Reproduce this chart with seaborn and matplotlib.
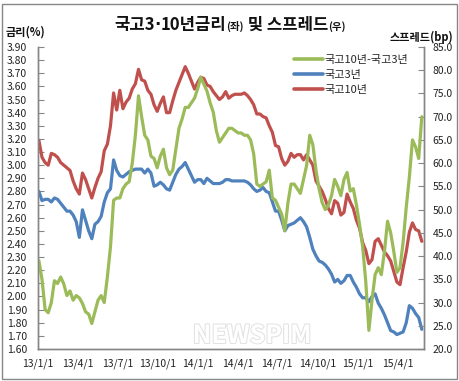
import numpy as np
import pandas as pd
import seaborn as sns
import matplotlib
matplotlib.use("Agg")
from matplotlib import pyplot as plt
from matplotlib.offsetbox import TextArea, HPacker, AnnotationBbox
from matplotlib.patches import Rectangle
from matplotlib.lines import Line2D
from matplotlib.ticker import FixedLocator, FuncFormatter
import matplotlib.patheffects as pe

# weekly readings, early Jan 2013 .. late May 2015
dates = pd.date_range("2013-01-03", "2015-05-27", periods=124)

# 국고10년 (%)
ktb10 = [
    3.19, 3.06, 3.02, 3.00, 3.09, 3.08, 3.06, 3.02, 3.00, 2.98,
    2.96, 2.88, 2.82, 2.78, 2.94, 2.89, 2.82, 2.75, 2.83, 2.90,
    2.95, 3.11, 3.16, 3.30, 3.55, 3.42, 3.57, 3.43, 3.48, 3.51,
    3.58, 3.62, 3.73, 3.65, 3.64, 3.57, 3.54, 3.46, 3.41, 3.47,
    3.52, 3.40, 3.40, 3.49, 3.57, 3.63, 3.69, 3.75, 3.70, 3.64,
    3.58, 3.63, 3.67, 3.66, 3.61, 3.60, 3.56, 3.53, 3.50, 3.52,
    3.56, 3.51, 3.53, 3.54, 3.54, 3.54, 3.55, 3.53, 3.50, 3.46,
    3.39, 3.39, 3.37, 3.36, 3.30, 3.25, 3.15, 3.14, 3.05, 3.00,
    3.03, 3.09, 3.06, 3.08, 3.08, 3.04, 3.08, 3.04, 3.00, 2.88,
    2.84, 2.80, 2.74, 2.67, 2.63, 2.73, 2.71, 2.62, 2.64, 2.78,
    2.72, 2.67, 2.58, 2.52, 2.41, 2.35, 2.25, 2.28, 2.42, 2.44,
    2.39, 2.34, 2.31, 2.27, 2.19, 2.11, 2.09, 2.22, 2.34, 2.49,
    2.56, 2.51, 2.50, 2.42,
]

# 국고3년 (%)
ktb3 = [
    2.80, 2.73, 2.74, 2.74, 2.72, 2.75, 2.74, 2.71, 2.68, 2.65,
    2.65, 2.62, 2.57, 2.45, 2.66, 2.58, 2.50, 2.44, 2.55, 2.57,
    2.61, 2.72, 2.79, 2.82, 3.04, 2.96, 2.92, 2.91, 2.93, 2.95,
    2.96, 2.97, 2.97, 2.97, 2.94, 2.97, 2.94, 2.84, 2.85, 2.87,
    2.85, 2.82, 2.81, 2.87, 2.93, 2.97, 2.99, 3.02, 2.97, 2.92,
    2.87, 2.89, 2.89, 2.86, 2.90, 2.88, 2.86, 2.86, 2.86, 2.87,
    2.89, 2.89, 2.88, 2.88, 2.88, 2.88, 2.88, 2.87, 2.85, 2.82,
    2.80, 2.81, 2.83, 2.80, 2.79, 2.72, 2.65, 2.65, 2.58, 2.50,
    2.54, 2.55, 2.56, 2.58, 2.60, 2.57, 2.53, 2.45, 2.36, 2.31,
    2.27, 2.26, 2.24, 2.21, 2.17, 2.11, 2.13, 2.10, 2.12, 2.16,
    2.16, 2.11, 2.07, 2.02, 1.99, 1.99, 1.96, 2.00, 2.02, 1.95,
    1.91, 1.86, 1.80, 1.74, 1.73, 1.71, 1.72, 1.73, 1.80, 1.93,
    1.91, 1.87, 1.84, 1.75,
]

# 국고10년-국고3년 (bp)
spread = [
    39.0, 35.0, 28.5, 27.8, 30.0, 34.7, 34.1, 35.5, 34.0, 31.5,
    32.5, 30.5, 31.5, 31.0, 29.8, 28.0, 27.5, 25.5, 28.0, 30.5,
    31.5, 30.0, 35.5, 42.0, 52.0, 52.5, 52.5, 54.5, 55.5, 56.0,
    60.0, 66.0, 74.5, 70.0, 66.0, 65.0, 61.5, 61.0, 59.0, 61.5,
    63.0, 59.0, 57.5, 58.5, 63.0, 67.5, 69.5, 72.0, 72.0, 73.0,
    74.0, 76.0, 78.5, 77.0, 75.5, 73.0, 71.0, 67.0, 64.5, 65.5,
    66.5, 67.5, 67.5, 67.0, 66.5, 66.5, 66.0, 66.0, 65.0, 62.0,
    55.5, 55.0, 55.5, 56.0, 58.5, 52.5, 52.0, 50.5, 49.0, 45.5,
    51.5, 55.5, 55.5, 54.5, 53.5, 56.5, 59.5, 66.0, 64.0, 58.5,
    54.5, 51.5, 50.0, 51.0, 53.0, 56.5, 55.0, 53.0, 56.5, 58.0,
    54.0, 54.5, 51.0, 46.8, 42.0, 34.5, 24.0, 30.5, 36.0, 37.5,
    36.0, 41.0, 47.5, 45.0, 41.0, 36.5, 37.5, 43.0, 50.5, 57.0,
    65.0, 63.5, 61.0, 70.0,
]

tick_dates = pd.to_datetime([
    "2013-01-01", "2013-04-01", "2013-07-01", "2013-10-01", "2014-01-01",
    "2014-04-01", "2014-07-01", "2014-10-01", "2015-01-01", "2015-04-01",
])
tick_labels = ["13/1/1", "13/4/1", "13/7/1", "13/10/1", "14/1/1",
               "14/4/1", "14/7/1", "14/10/1", "15/1/1", "15/4/1"]

GREEN, BLUE, RED = "#9BBB59", "#4F81BD", "#C0504D"
AXIS = "#868686"

sns.set_theme(style="white")
plt.rcParams["font.family"] = ["Noto Sans CJK KR", "DejaVu Sans"]

fig = plt.figure(figsize=(4.6, 3.81), dpi=100)
ax = fig.add_axes([38 / 460, 1 - 349 / 381, 386 / 460, 302 / 381])
ax2 = ax.twinx()

sns.lineplot(x=dates, y=ktb3, ax=ax, color=BLUE, linewidth=2.3, legend=False)
sns.lineplot(x=dates, y=ktb10, ax=ax, color=RED, linewidth=2.3, legend=False)
sns.lineplot(x=dates, y=spread, ax=ax2, color=GREEN, linewidth=2.3, legend=False)

ax.set_xlim(pd.Timestamp("2013-01-01"), pd.Timestamp("2015-06-01"))
ax.set_ylim(1.6, 3.9)
ax2.set_ylim(20, 85)
ax.set_xlabel("")
ax.set_ylabel("")
ax2.set_ylabel("")

ax.yaxis.set_major_locator(FixedLocator(np.arange(1.6, 3.905, 0.1)))
ax.yaxis.set_major_formatter(FuncFormatter(lambda v, p: f"{v:.2f}"))
ax2.yaxis.set_major_locator(FixedLocator(np.arange(20, 85.5, 5)))
ax2.yaxis.set_major_formatter(FuncFormatter(lambda v, p: f"{v:.1f}"))
ax.xaxis.set_major_locator(FixedLocator(matplotlib.dates.date2num(tick_dates)))
ax.set_xticklabels(tick_labels)

for a in (ax, ax2):
    for s in a.spines.values():
        s.set_color(AXIS)
        s.set_linewidth(1.0)
    a.spines["top"].set_visible(False)
ax.tick_params(axis="y", direction="in", length=4, width=0.8, color=AXIS,
               labelsize=7.5, pad=8, labelcolor="#222222", left=True)
ax2.tick_params(axis="y", direction="in", length=4, width=0.8, color=AXIS,
                labelsize=7.5, pad=6, labelcolor="#222222", right=True)
ax.tick_params(axis="x", length=0, labelsize=7.5, pad=7, labelcolor="#222222")

# title with small (좌)/(우); the middle dot from DejaVu to keep it narrow
big = dict(fontsize=12, fontweight="bold", color="#111111")
small = dict(fontsize=7.5, fontweight="bold", color="#111111")
dot = dict(fontsize=12, fontweight="bold", color="#111111", fontfamily="DejaVu Sans")
boxes = [TextArea("국고3", textprops=big), TextArea("·", textprops=dot),
         TextArea("10년금리", textprops=big), TextArea("(좌)", textprops=small),
         TextArea(" 및 스프레드", textprops=big), TextArea("(우)", textprops=small)]
title = HPacker(children=boxes, align="baseline", pad=0, sep=0)
fig.add_artist(AnnotationBbox(title, (0.5, 1 - 25 / 381), xycoords="figure fraction",
                              frameon=False))

fig.text(6 / 460, 1 - 32 / 381, "금리(%)", fontsize=8, fontweight="bold",
         va="center", ha="left", color="#111111")
fig.text(453 / 460, 1 - 37 / 381, "스프레드(bp)", fontsize=8, fontweight="bold",
         va="center", ha="right", color="#111111")

handles = [Line2D([], [], color=GREEN, lw=2.6), Line2D([], [], color=BLUE, lw=2.6),
           Line2D([], [], color=RED, lw=2.6)]
ax2.legend(handles, ["국고10년-국고3년", "국고3년", "국고10년"], loc="upper left",
           bbox_to_anchor=(286 / 460, 1 - 47 / 381), bbox_transform=fig.transFigure,
           frameon=False, fontsize=8, handlelength=2.6, handletextpad=0.15,
           labelspacing=0.45, borderpad=0.2)

# faint watermark
fig.text(252 / 460, 1 - 336 / 381, "NEWSPIM", fontsize=18, fontweight="bold",
         ha="center", va="center", color="white",
         path_effects=[pe.withStroke(linewidth=1.5, foreground="#e2e2e2")])

fig.add_artist(Rectangle((2 / 460, 2 / 381), 455 / 460, 375 / 381,
                         transform=fig.transFigure, fill=False,
                         edgecolor=AXIS, linewidth=1.0))

fig.savefig("out.png", dpi=100)
